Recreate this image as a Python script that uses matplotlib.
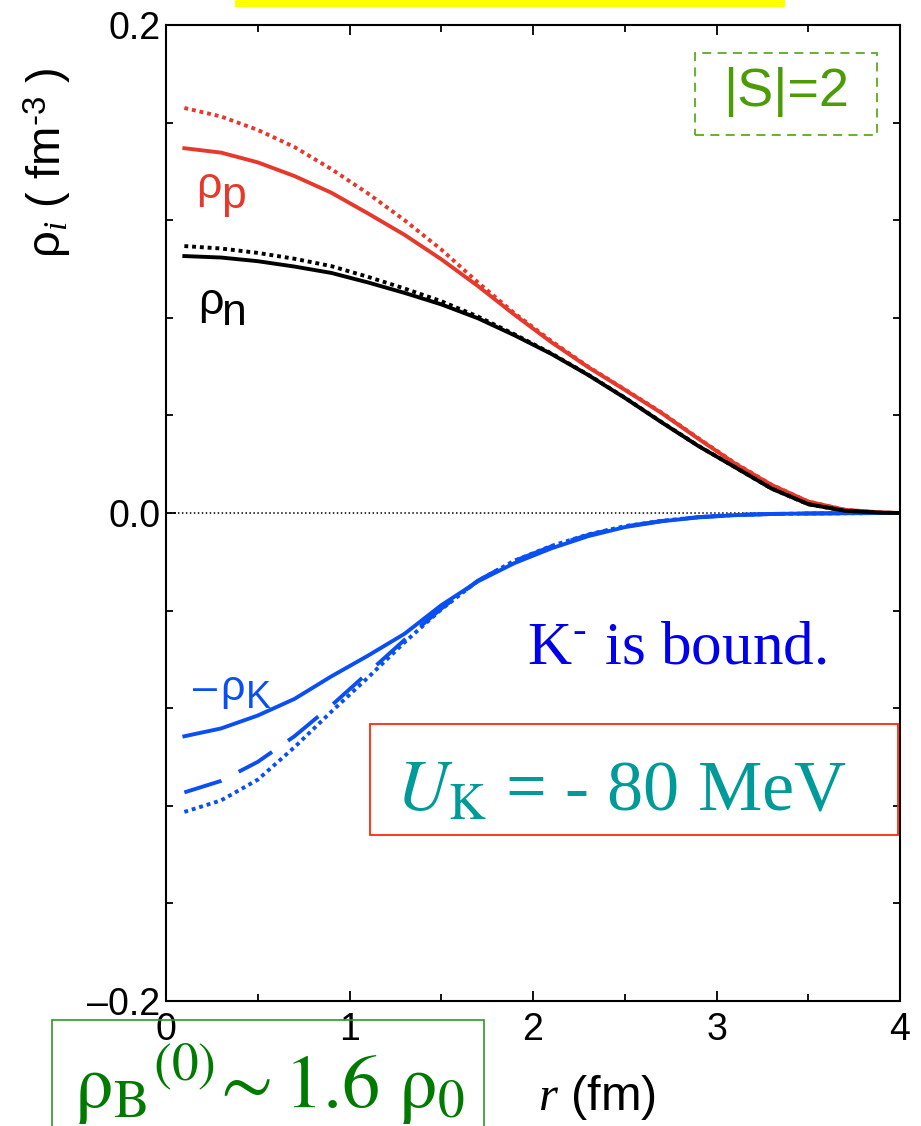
import matplotlib
matplotlib.use('Agg')
import matplotlib.pyplot as plt
from matplotlib.patches import Rectangle

plt.rcParams['font.family'] = ['Liberation Sans', 'DejaVu Sans']
plt.rcParams['mathtext.fontset'] = 'custom'
plt.rcParams['mathtext.rm'] = 'Liberation Sans'
plt.rcParams['mathtext.it'] = 'Liberation Serif:italic'
plt.rcParams['mathtext.bf'] = 'Liberation Sans:bold'

# ---------------- data ----------------
r = [0.1, 0.3, 0.5, 0.7, 0.9, 1.1, 1.3, 1.5, 1.7, 1.9, 2.1,
     2.3, 2.5, 2.7, 2.9, 3.1, 3.3, 3.5, 3.7, 3.9, 4.0]

rho_p_solid = [0.1495, 0.1477, 0.1437, 0.1381, 0.1313, 0.1228, 0.1140, 0.1040,
               0.0930, 0.0812, 0.0700, 0.0598, 0.0505, 0.0410, 0.0305, 0.0203,
               0.0115, 0.0047, 0.0013, 0.0002, 0.0]
rho_p_dotted = [0.1660, 0.1625, 0.1570, 0.1500, 0.1410, 0.1310, 0.1200, 0.1080,
                0.0945, 0.0818, 0.0705, 0.0600, 0.0507, 0.0412, 0.0307, 0.0205,
                0.0116, 0.0047, 0.0013, 0.0002, 0.0]
rho_n_solid = [0.1053, 0.1047, 0.1032, 0.1010, 0.0984, 0.0945, 0.0902, 0.0855,
               0.0798, 0.0728, 0.0652, 0.0566, 0.0472, 0.0372, 0.0275, 0.0188,
               0.0100, 0.0036, 0.0009, 0.0001, 0.0]
rho_n_dotted = [0.1094, 0.1084, 0.1066, 0.1042, 0.1012, 0.0968, 0.0920, 0.0868,
                0.0805, 0.0732, 0.0654, 0.0567, 0.0473, 0.0373, 0.0276, 0.0188,
                0.0100, 0.0036, 0.0009, 0.0001, 0.0]
rho_K_solid = [-0.0915, -0.0883, -0.0830, -0.0762, -0.0670, -0.0585, -0.0495, -0.0378,
               -0.0280, -0.0205, -0.0145, -0.0095, -0.0058, -0.0034, -0.0018, -0.0009,
               -0.0004, -0.0002, -0.0001, 0.0, 0.0]
rho_K_dashed = [-0.1145, -0.1098, -0.1020, -0.0915, -0.0790, -0.0655, -0.0520, -0.0392,
                -0.0277, -0.0196, -0.0137, -0.0090, -0.0055, -0.0033, -0.0017, -0.0008,
                -0.0004, -0.0002, -0.0001, 0.0, 0.0]
rho_K_dotted = [-0.1225, -0.1178, -0.1093, -0.0960, -0.0815, -0.0675, -0.0530, -0.0395,
                -0.0278, -0.0195, -0.0135, -0.0088, -0.0054, -0.0032, -0.0017, -0.0008,
                -0.0004, -0.0002, -0.0001, 0.0, 0.0]

xticks = [0, 1, 2, 3, 4]
xtick_labels = ['0', '1', '2', '3', '4']
xminor = [0.5, 1.5, 2.5, 3.5]
yticks = [-0.2, 0.0, 0.2]
ytick_labels = ['\u20130.2', '0.0', '0.2']
yminor = [-0.16, -0.12, -0.08, -0.04, 0.04, 0.08, 0.12, 0.16]

RED = '#e6392c'
BLUE = '#0a4ff2'
BLACK = '#000000'
SERIF = ['Liberation Serif', 'DejaVu Serif']

# ---------------- figure ----------------
W, H = 921, 1126
fig = plt.figure(figsize=(W / 100, H / 100), dpi=100)


def fx(px):
    return px / W


def fy(py):
    return 1 - py / H


ax = fig.add_axes([fx(166), fy(1001), (900 - 166) / W, (1001 - 25) / H])

lw = 2.8
ax.axhline(0, color='black', lw=1.1, linestyle=(0, (1, 1.6)), zorder=1)
ax.plot(r, rho_p_dotted, color=RED, lw=lw, linestyle=(0, (1, 1)), zorder=2)
ax.plot(r, rho_p_solid, color=RED, lw=lw, zorder=3)
ax.plot(r, rho_n_dotted, color=BLACK, lw=lw, linestyle=(0, (1, 1)), zorder=4)
ax.plot(r, rho_n_solid, color=BLACK, lw=lw, zorder=5)
ax.plot(r, rho_K_dotted, color=BLUE, lw=lw, linestyle=(0, (1, 1)), zorder=3)
ax.plot(r, rho_K_dashed, color=BLUE, lw=lw, linestyle=(0, (10, 5)), zorder=3)
ax.plot(r, rho_K_solid, color=BLUE, lw=lw, zorder=4)

ax.set_xlim(0, 4)
ax.set_ylim(-0.2, 0.2)
ax.set_xticks(xticks)
ax.set_xticklabels(xtick_labels)
ax.set_xticks(xminor, minor=True)
ax.set_yticks(yticks)
ax.set_yticklabels(ytick_labels)
ax.set_yticks(yminor, minor=True)
ax.tick_params(which='both', direction='in', top=True, right=True, width=1.3)
ax.tick_params(which='major', length=7.5, labelsize=27)
ax.tick_params(which='minor', length=5)
ax.tick_params(axis='y', which='major', pad=4)
ax.tick_params(axis='x', which='major', pad=8)
for s in ax.spines.values():
    s.set_linewidth(1.5)

# ---------------- curve labels ----------------
fig.text(fx(196), fy(198), 'ρ', color=RED, fontsize=32, va='baseline')
fig.text(fx(221), fy(208), 'p', color=RED, fontsize=32, va='baseline')
fig.text(fx(198), fy(314), 'ρ', color=BLACK, fontsize=32, va='baseline')
fig.text(fx(222), fy(325), 'n', color=BLACK, fontsize=32, va='baseline')
fig.text(fx(193), fy(700), '\u2013', color=BLUE, fontsize=31, va='baseline')
fig.text(fx(220), fy(700), 'ρ', color=BLUE, fontsize=31, va='baseline')
fig.text(fx(246), fy(708), 'K', color=BLUE, fontsize=27, va='baseline')

# ---------------- axis labels ----------------
fig.text(fx(48), fy(163), r'$\mathrm{ρ}_{\mathit{i}}$ ( fm$^{\mathrm{‐3}}$ )',
         rotation=90, fontsize=34, ha='center', va='center')
fig.text(fx(538), fy(1110), r'$\mathit{r}$ (fm)', fontsize=35, va='baseline')

# ---------------- annotations ----------------
fig.add_artist(Rectangle((fx(235), fy(7)), (785 - 235) / W, 7 / H,
                         transform=fig.transFigure, facecolor='#ffff00',
                         edgecolor='none'))

fig.add_artist(Rectangle((fx(695), fy(135)), (877 - 695) / W, (135 - 53) / H,
                         transform=fig.transFigure, fill=False,
                         edgecolor='#5aab1e', lw=1.3, linestyle=(0, (5, 3.5))))
fig.text(fx(786), fy(92), '|S|=2', color='#4c9c06', fontsize=39,
         ha='center', va='center')

fig.text(fx(527), fy(663), r'K$^{\mathrm{‐}}$ is bound.', fontsize=44, family=SERIF,
         color='#0000ee', math_fontfamily='stix', va='baseline')

fig.add_artist(Rectangle((fx(370), fy(835)), (898 - 370) / W, (835 - 724) / H,
                         transform=fig.transFigure, fill=False,
                         edgecolor='#ff2a0a', lw=1.3))
fig.text(fx(396), fy(810), r'$U_{\mathrm{K}}$ = - 80 MeV', fontsize=52, family=SERIF,
         color='#009a98', math_fontfamily='stix', va='baseline')

fig.add_artist(Rectangle((fx(52), fy(1140)), (484 - 52) / W, (1140 - 1020) / H,
                         transform=fig.transFigure, fill=False,
                         edgecolor='#2a9a2a', lw=1.2))
fig.text(fx(74), fy(1107), r'$\mathrm{ρ_{B}}^{(0)}\!\sim \mathrm{1.6\ ρ_{0}}$',
         fontsize=55, color='#007a00', math_fontfamily='stix', va='baseline')

fig.savefig('out.png', dpi=100)
